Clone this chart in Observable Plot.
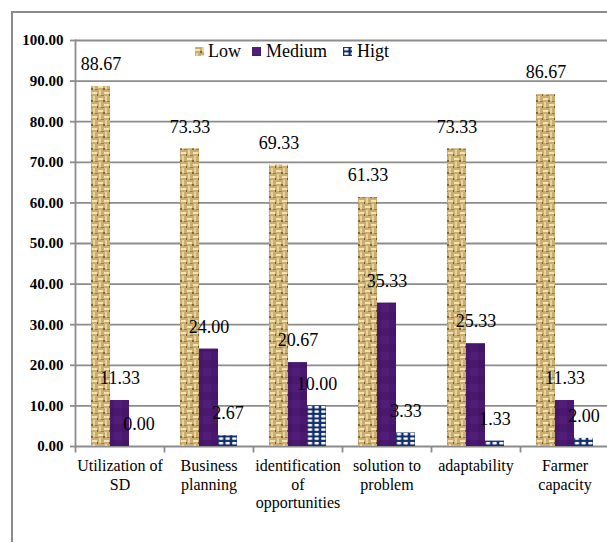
<!DOCTYPE html>
<html>
<head>
<meta charset="utf-8">
<script src="https://cdn.jsdelivr.net/npm/d3@7"></script>
<script src="https://cdn.jsdelivr.net/npm/@observablehq/plot@0.6"></script>
<style>
html, body { margin: 0; padding: 0; background: #fff; overflow: hidden; width: 607px; height: 543px; }
#wrap { position: relative; width: 607px; height: 543px; overflow: hidden; }
#frame { position: absolute; left: 11px; top: 11px; width: 700px; height: 529px; border-left: 2px solid #8c8c8c; border-top: 2px solid #8c8c8c; }
#chart { position: absolute; left: 0; top: 0; }
.sw { position: absolute; top: 47px; width: 9px; height: 9px; }
.lt { position: absolute; top: 42px; font-family: "Liberation Serif", serif; font-size: 18px; line-height: 18px; color: #000; white-space: nowrap; }
</style>
</head>
<body>
<svg width="0" height="0" style="position:absolute">
  <defs>
    <pattern id="pLow" patternUnits="userSpaceOnUse" width="12" height="12">
      <rect width="12" height="12" fill="#c9ad72"/>
      <rect x="0" y="2" width="5" height="2" fill="#f2e3b3"/>
      <rect x="6" y="8" width="5" height="2" fill="#f2e3b3"/>
      <rect x="7" y="0" width="2" height="5" fill="#e8d59c"/>
      <rect x="1" y="6" width="2" height="5" fill="#e8d59c"/>
      <rect x="5" y="4" width="2" height="2" fill="#6e5124" opacity="0.8"/>
      <rect x="11" y="10" width="1" height="2" fill="#7a5a2a"/>
      <rect x="9" y="5" width="3" height="1" fill="#9c7c45"/>
      <rect x="3" y="11" width="3" height="1" fill="#9c7c45"/>
    </pattern>
    <pattern id="pMed" patternUnits="userSpaceOnUse" width="16" height="16">
      <rect width="16" height="16" fill="#4a196f"/>
      <rect x="0" y="0" width="8" height="8" fill="#561f80" opacity="0.6"/>
      <rect x="8" y="8" width="8" height="8" fill="#3f135f" opacity="0.5"/>
    </pattern>
    <pattern id="pHigh" patternUnits="userSpaceOnUse" width="6.67" height="4.5">
      <rect width="6.67" height="4.5" fill="#122f6d"/>
      <rect x="1.1" y="1" width="4.4" height="2.3" rx="0.8" fill="#ffffff"/>
    </pattern>
  </defs>
</svg>
<div id="wrap">
  <div id="frame"></div>
  <div id="chart"></div>
  <svg class="sw" style="left:195px"><rect width="9" height="9" fill="url(#pLow)"/></svg>
  <div class="lt" style="left:208px">Low</div>
  <svg class="sw" style="left:252px"><rect width="9" height="9" fill="url(#pMed)"/></svg>
  <div class="lt" style="left:266px">Medium</div>
  <svg class="sw" style="left:343px"><rect width="9" height="9" fill="url(#pHigh)"/></svg>
  <div class="lt" style="left:357px">Higt</div>
</div>
<script>
const categories = ["Utilization of\nSD", "Business\nplanning", "identification\nof\nopportunities", "solution to\nproblem", "adaptability", "Farmer\ncapacity"];
const series = ["Low", "Medium", "Higt"];
const low = [88.67, 73.33, 69.33, 61.33, 73.33, 86.67];
const medium = [11.33, 24.00, 20.67, 35.33, 25.33, 11.33];
const higt = [0.00, 2.67, 10.00, 3.33, 1.33, 2.00];
const yTicks = [0, 10, 20, 30, 40, 50, 60, 70, 80, 90, 100];
const seriesFills = ["url(#pLow)", "url(#pMed)", "url(#pHigh)"];

const values = [low, medium, higt];
const data = categories.flatMap((c, i) => series.map((s, j) => ({category: c, series: s, value: values[j][i]})));

const gray = "#8c8c8c";
const tickSym = {draw(ctx) { ctx.moveTo(0, 0); ctx.lineTo(0, 6); }};

const chart = Plot.plot({
  width: 611,
  height: 543,
  marginLeft: 73,
  marginRight: 0,
  marginTop: 40,
  marginBottom: 97,
  style: {maxWidth: "none", overflow: "visible", fontFamily: "Liberation Serif, serif", background: "transparent"},
  fx: {domain: categories, padding: 0, label: null},
  x: {domain: series, paddingInner: 0, paddingOuter: 0.75, axis: null},
  y: {domain: [0, 100], label: null},
  color: {domain: series, range: seriesFills},
  marks: [
    Plot.gridY(yTicks, {stroke: gray, strokeOpacity: 1, strokeWidth: 1.8}),
    Plot.barY(data, {fx: "category", x: "series", y: "value", fill: "series"}),
    Plot.frame({anchor: "left", facetAnchor: "left", stroke: gray, strokeWidth: 1.8}),
    Plot.axisY(yTicks, {tickFormat: d => d.toFixed(2), tickSize: 5, tickPadding: 7, stroke: gray, strokeWidth: 1.8, strokeOpacity: 1, fontSize: 15, fontWeight: "bold", fill: "black", label: null}),
    Plot.axisFx({anchor: "bottom", tickSize: 0, tickPadding: 12, fontSize: 16, lineHeight: 1.14, fill: "black", label: null}),
    Plot.dot(categories, {fx: d => d, frameAnchor: "bottom-left", symbol: tickSym, r: 3, fill: "none", stroke: gray, strokeWidth: 1.8}),
    Plot.text(data, {fx: "category", x: "series", y: "value", text: d => d.value.toFixed(2), lineAnchor: "middle", dy: -22, fontSize: 18, fill: "black"})
  ]
});
document.getElementById("chart").appendChild(chart);
</script>
</body>
</html>
